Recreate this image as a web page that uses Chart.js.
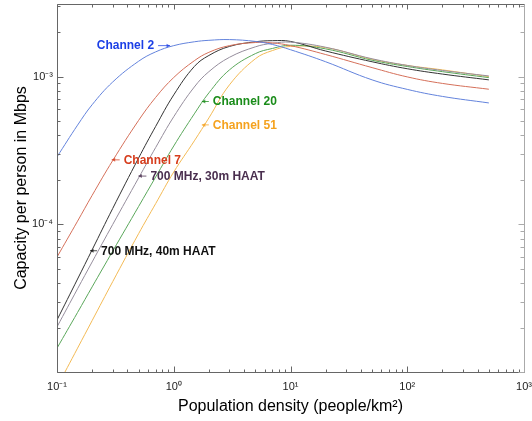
<!DOCTYPE html>
<html>
<head>
<meta charset="utf-8">
<script src="https://cdn.jsdelivr.net/npm/chart.js@4.4.1/dist/chart.umd.min.js"></script>
<style>
  html, body { margin: 0; padding: 0; background: #fff; }
  canvas { display: block; }
</style>
</head>
<body>
<canvas id="chart" width="532" height="421"></canvas>
<script>
// population density (people/km2)
const density = [0.1, 0.15, 0.2, 0.3, 0.5, 0.7, 1, 1.5, 2, 3, 5, 7, 10, 20, 50, 100, 200, 500];

// capacity per person (Mbps)
const channel2 = [2.86e-4, 4.69e-4, 6.45e-4, 9.19e-4, 1.27e-3, 1.47e-3, 1.62e-3, 1.72e-3, 1.76e-3, 1.78e-3, 1.73e-3, 1.65e-3, 1.52e-3, 1.26e-3, 9.5e-4, 8.19e-4, 7.34e-4, 6.63e-4];
const channel7 = [6.0e-5, 1.05e-4, 1.57e-4, 2.70e-4, 5.05e-4, 7.23e-4, 9.86e-4, 1.28e-3, 1.46e-3, 1.62e-3, 1.70e-3, 1.69e-3, 1.62e-3, 1.41e-3, 1.15e-3, 9.95e-4, 8.99e-4, 8.21e-4];
const mhz700h40 = [2.25e-5, 4.26e-5, 6.72e-5, 1.28e-4, 2.81e-4, 4.60e-4, 7.52e-4, 1.17e-3, 1.39e-3, 1.60e-3, 1.72e-3, 1.75e-3, 1.73e-3, 1.49e-3, 1.26e-3, 1.13e-3, 1.04e-3, 9.5e-4];
const mhz700h30 = [2.02e-5, 3.66e-5, 5.56e-5, 9.97e-5, 2.06e-4, 3.31e-4, 5.35e-4, 8.5e-4, 1.08e-3, 1.35e-3, 1.59e-3, 1.68e-3, 1.71e-3, 1.58e-3, 1.32e-3, 1.19e-3, 1.10e-3, 1.01e-3];
const channel20 = [1.45e-5, 2.53e-5, 3.77e-5, 6.58e-5, 1.32e-4, 2.09e-4, 3.39e-4, 5.59e-4, 7.76e-4, 1.11e-3, 1.43e-3, 1.55e-3, 1.63e-3, 1.54e-3, 1.29e-3, 1.17e-3, 1.08e-3, 9.84e-4];
const channel51 = [7.9e-6, 1.45e-5, 2.23e-5, 4.09e-5, 8.64e-5, 1.38e-4, 2.26e-4, 3.67e-4, 5.25e-4, 8.79e-4, 1.32e-3, 1.50e-3, 1.60e-3, 1.57e-3, 1.31e-3, 1.19e-3, 1.11e-3, 1.0e-3];

const xTickValues = [0.1, 1, 10, 100, 1000];
const xTickLabels = ["10⁻¹", "10⁰", "10¹", "10²", "10³"];
const yTickValues = [1e-4, 1e-3];
const yTickLabels = ["10⁻⁴", "10⁻³"];
const yDecades = [1e-5, 1e-4, 1e-3];

// text labels, anchored at the arrow tip (data units)
const notes = [
  { text: "Channel 2", color: "#1b3fe6", x: 0.93, y: 1.62e-3, side: "left", arrow: 12 },
  { text: "Channel 20", color: "#1a8c1a", x: 1.74, y: 6.78e-4, side: "right", arrow: 7 },
  { text: "Channel 51", color: "#f5a21e", x: 1.74, y: 4.71e-4, side: "right", arrow: 7 },
  { text: "Channel 7", color: "#d63c1c", x: 0.294, y: 2.73e-4, side: "right", arrow: 8 },
  { text: "700 MHz, 30m HAAT", color: "#4a2f4f", x: 0.498, y: 2.12e-4, side: "right", arrow: 8 },
  { text: "700 MHz, 40m HAAT", color: "#111111", x: 0.192, y: 6.62e-5, side: "right", arrow: 7 }
];

function points(values) {
  return density.map((d, i) => ({ x: d, y: values[i] }));
}

function line(values, color) {
  return {
    data: points(values),
    borderColor: color,
    borderWidth: 1,
    pointRadius: 0,
    tension: 0.4,
    fill: false
  };
}

const X_MIN = 0.1, X_MAX = 1000, Y_MIN = 1e-5, Y_MAX = 3.1e-3;

// frame with inward ticks like the original plot
const frameTicks = {
  id: "frameTicks",
  afterDraw(chart) {
    const { ctx, chartArea: a, scales: { x, y } } = chart;
    ctx.save();
    ctx.lineWidth = 1;

    const xMajor = xTickValues.map((v) => Math.round(x.getPixelForValue(v)) + 0.5);
    const xMinor = [];
    xTickValues.slice(0, -1).forEach((d) => {
      for (let m = 2; m < 10; m++) xMinor.push(Math.round(x.getPixelForValue(m * d)) + 0.5);
    });
    const yMajor = yDecades.map((v) => Math.round(y.getPixelForValue(v)) + 0.5);
    const yMinor = [];
    yDecades.forEach((d) => {
      for (let m = 2; m < 10; m++) {
        const v = m * d;
        if (v < Y_MAX) yMinor.push(Math.round(y.getPixelForValue(v)) + 0.5);
      }
    });

    const L = Math.round(a.left) + 0.5, R = Math.round(a.right) + 0.5;
    const T = Math.round(a.top) + 0.5, B = Math.round(a.bottom) + 0.5;

    ctx.strokeStyle = "#666";
    ctx.beginPath();
    ctx.moveTo(L, T); ctx.lineTo(L, B); ctx.lineTo(R, B);
    ctx.moveTo(L, T); ctx.lineTo(R, T);
    xMajor.forEach((px) => { ctx.moveTo(px, B); ctx.lineTo(px, B - 6); ctx.moveTo(px, T); ctx.lineTo(px, T + 5); });
    xMinor.forEach((px) => { ctx.moveTo(px, B); ctx.lineTo(px, B - 3); ctx.moveTo(px, T); ctx.lineTo(px, T + 3); });
    yMajor.forEach((py) => { ctx.moveTo(L, py); ctx.lineTo(L + 6, py); });
    yMinor.forEach((py) => { ctx.moveTo(L, py); ctx.lineTo(L + 3, py); });
    ctx.stroke();

    ctx.strokeStyle = "#aaa";
    ctx.beginPath();
    ctx.moveTo(R, T); ctx.lineTo(R, B);
    yMajor.forEach((py) => { ctx.moveTo(R, py); ctx.lineTo(R - 6, py); });
    yMinor.forEach((py) => { ctx.moveTo(R, py); ctx.lineTo(R - 4, py); });
    ctx.stroke();
    ctx.restore();
  }
};

const noteLabels = {
  id: "noteLabels",
  afterDatasetsDraw(chart) {
    const { ctx, scales: { x, y } } = chart;
    ctx.save();
    ctx.font = 'bold 12px "Liberation Sans", Arial, sans-serif';
    ctx.textBaseline = "middle";
    notes.forEach((n) => {
      const px = x.getPixelForValue(n.x);
      const py = y.getPixelForValue(n.y);
      const dir = n.side === "right" ? 1 : -1;
      const tail = px + dir * n.arrow;
      ctx.strokeStyle = n.color;
      ctx.fillStyle = n.color;
      ctx.globalAlpha = 0.75;
      ctx.lineWidth = 1;
      ctx.beginPath();
      ctx.moveTo(tail, py);
      ctx.lineTo(px, py);
      ctx.stroke();
      ctx.beginPath();
      ctx.moveTo(px, py);
      ctx.lineTo(px + dir * 3.5, py - 2);
      ctx.lineTo(px + dir * 3.5, py + 2);
      ctx.closePath();
      ctx.fill();
      ctx.globalAlpha = 1;
      ctx.textAlign = n.side === "right" ? "left" : "right";
      ctx.fillText(n.text, tail + dir * 4, py + 0.5);
    });
    ctx.restore();
  }
};

const tickFont = { family: '"Liberation Sans", Arial, sans-serif', size: 11 };
const titleFont = { family: '"Liberation Sans", Arial, sans-serif', size: 16 };

new Chart(document.getElementById("chart"), {
  type: "line",
  data: {
    datasets: [
      line(channel2, "#6383dc"),
      line(channel7, "#d5705a"),
      line(mhz700h30, "#958d9c"),
      line(mhz700h40, "#333333"),
      line(channel20, "#5aa75a"),
      line(channel51, "#f3ba55")
    ]
  },
  options: {
    responsive: false,
    devicePixelRatio: 1,
    animation: false,
    layout: { padding: { left: 0, right: 8, top: 4, bottom: 0 } },
    plugins: { legend: { display: false }, tooltip: { enabled: false } },
    scales: {
      x: {
        type: "logarithmic",
        min: X_MIN,
        max: X_MAX,
        bounds: "data",
        grid: { display: false, drawTicks: false },
        border: { display: false },
        afterBuildTicks: (s) => { s.ticks = xTickValues.map((v) => ({ value: v })); },
        afterFit: (s) => { s.height = 49; s.paddingLeft = 0; s.paddingRight = 0; },
        ticks: {
          autoSkip: false,
          maxRotation: 0,
          padding: 8,
          color: "#222",
          font: tickFont,
          callback: (v) => xTickLabels[xTickValues.indexOf(v)] ?? ""
        },
        title: {
          display: true,
          text: "Population density (people/km²)",
          color: "#000",
          font: titleFont,
          padding: { top: 0, bottom: 5 }
        }
      },
      y: {
        type: "logarithmic",
        min: Y_MIN,
        max: Y_MAX,
        bounds: "data",
        grid: { display: false, drawTicks: false },
        border: { display: false },
        afterBuildTicks: (s) => { s.ticks = yTickValues.map((v) => ({ value: v })); },
        afterFit: (s) => { s.width = 57; s.paddingTop = 0; s.paddingBottom = 0; },
        ticks: {
          autoSkip: false,
          padding: 4,
          color: "#222",
          font: tickFont,
          callback: (v) => yTickLabels[yTickValues.indexOf(v)] ?? ""
        },
        title: {
          display: true,
          text: "Capacity per person in Mbps",
          color: "#000",
          font: titleFont,
          padding: { top: 12, bottom: 0 }
        }
      }
    }
  },
  plugins: [frameTicks, noteLabels]
});
</script>
</body>
</html>
